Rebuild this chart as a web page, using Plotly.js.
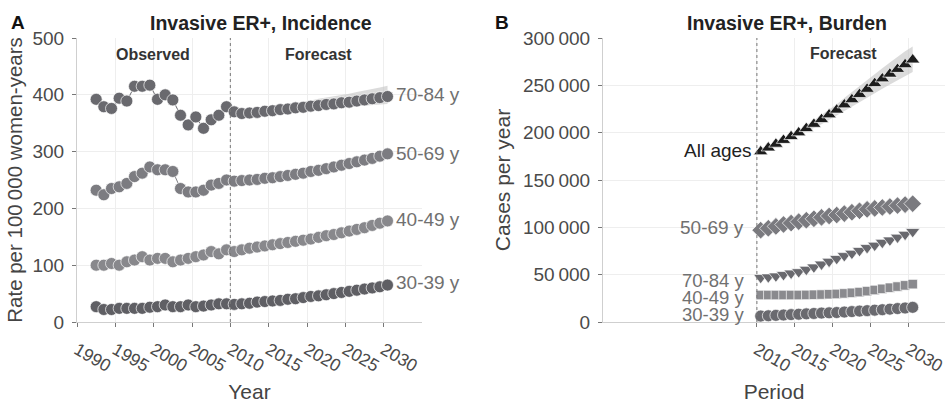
<!DOCTYPE html>
<html>
<head>
<meta charset="utf-8">
<script src="https://cdn.plot.ly/plotly-3.0.1.min.js"></script>
<style>html,body{margin:0;padding:0;background:#fff;}#chart{width:945px;height:403px;}</style>
</head>
<body>
<div id="chart"></div>
<script>
// ---------- Data ----------
var obsYears = [1992,1993,1994,1995,1996,1997,1998,1999,2000,2001,2002,2003,2004,2005,2006,2007,2008,2009];
var fcYears = [2010,2011,2012,2013,2014,2015,2016,2017,2018,2019,2020,2021,2022,2023,2024,2025,2026,2027,2028,2029,2030];

// Panel A: incidence per 100 000 women-years
var incObs7084 = [392,379,376,394,389,415,415,417,392,400,391,364,347,361,341,356,364,379];
var incFc7084  = [370,367,368,369,371,372,374,375,377,378,380,381,383,384,386,387,389,391,393,395,397];
var incFc7084Lo = [370,366,366,367,368,369,370,371,372,373,374,375,376,377,378,379,380,381,382,383,384];
var incFc7084Hi = [370,369,371,373,376,378,381,383,386,388,390,393,395,398,400,402,405,407,410,413,416];
var incObs5069 = [232,224,235,238,244,256,262,273,268,268,265,235,229,229,232,241,244,250];
var incFc5069  = [248,249,250,251,253,254,256,258,260,262,265,267,270,273,276,279,282,285,288,292,296];
var incObs4049 = [100,100,103,100,106,109,115,109,112,112,106,109,112,115,118,124,120,127];
var incFc4049  = [124,127,130,132,134,136,138,140,142,144,146,149,152,154,157,160,163,166,170,174,178];
var incObs3039 = [27,22,22,24,24,24,24,26,27,30,27,27,30,27,28,30,32,32];
var incFc3039  = [31,32,33,35,36,37,38,40,41,43,45,46,48,50,52,54,56,58,60,62,65];

// Panel B: cases per year (forecast)
var burAll   = [180000,184000,188000,192000,196000,200000,204500,209000,214000,219000,224000,229500,235000,240500,246000,252000,257000,262000,267000,272000,277000];
var burAllLo = [180000,183500,187000,190500,194000,197500,201000,205000,209000,213500,218000,222500,227000,232000,237000,242000,246500,251000,255500,260000,264000];
var burAllHi = [180000,184500,189000,193500,198000,202500,208000,213000,219000,224500,230000,236500,243000,249000,255000,262000,268000,274000,280000,286000,291000];
var bur5069 = [97000,99000,101000,103000,104500,106000,107500,109000,110500,112000,113000,114500,116000,117500,119000,120000,121000,122000,123000,124000,125000];
var bur7084 = [47000,47500,48500,50000,51500,53000,55500,58000,61000,64000,67000,70000,72500,75500,78500,81000,84000,86500,89500,92500,95500];
var bur4049 = [28500,28500,28500,28500,28500,28500,28600,28800,29000,29300,29600,30200,30800,31600,32600,33800,35000,36200,37400,38700,40000];
var bur3039 = [6300,6600,7000,7400,7800,8200,8600,9000,9400,9700,10000,10500,11000,11500,12000,12500,13000,13600,14200,14800,15500];

var incTicks = [0,100,200,300,400,500];
var burTicks = [0,50000,100000,150000,200000,250000,300000];
var burTickText = ['0','50\u2009000','100\u2009000','150\u2009000','200\u2009000','250\u2009000','300\u2009000'];
var yearTicksA = [1990,1995,2000,2005,2010,2015,2020,2025,2030];
var yearTicksB = [2010,2015,2020,2025,2030];

// ---------- Helpers ----------
var MID = 0.5; // points plotted at mid-year
function mid(arr){ return arr.map(function(v){ return v + MID; }); }
var W = 945, T = 38, B = 322;
function px(x){ return x / W; }
function py(y){ return (B - y) / (B - T); }

var FONT = 'Liberation Sans, Arial, Helvetica, sans-serif';
var cA7084 = '#69696e', cA5069 = '#7c7c81', cA4049 = '#88888c', cA3039 = '#5f5f64';
var cBAll = '#1c1c1c', cB5069 = '#7a7a7f', cB7084 = '#69696e', cB4049 = '#8a8a8e', cB3039 = '#6a6a6f';
var outline = {color:'rgba(255,255,255,0.85)', width:0.8};

function series(x, y, color, symbol, size, xa, ya){
  return {x:x, y:y, type:'scatter', mode:'lines+markers', xaxis:xa, yaxis:ya,
    line:{color:color, width:1}, marker:{color:color, symbol:symbol, size:size, line:outline},
    hoverinfo:'skip', showlegend:false};
}
function band(x, lo, hi, xa, ya){
  return [
    {x:x, y:lo, type:'scatter', mode:'lines', line:{width:0, color:'rgba(0,0,0,0)'}, xaxis:xa, yaxis:ya, showlegend:false, hoverinfo:'skip'},
    {x:x, y:hi, type:'scatter', mode:'lines', fill:'tonexty', fillcolor:'rgba(195,195,195,0.6)', line:{width:0, color:'rgba(0,0,0,0)'}, xaxis:xa, yaxis:ya, showlegend:false, hoverinfo:'skip'}
  ];
}

var allYearsA = obsYears.concat(fcYears);
var data = [].concat(
  band(mid(fcYears), incFc7084Lo, incFc7084Hi, 'x', 'y'),
  band(mid(fcYears), burAllLo, burAllHi, 'x2', 'y2'),
  [
    series(mid(allYearsA), incObs3039.concat(incFc3039), cA3039, 'circle', 12, 'x', 'y'),
    series(mid(allYearsA), incObs4049.concat(incFc4049), cA4049, 'circle', 12, 'x', 'y'),
    series(mid(allYearsA), incObs5069.concat(incFc5069), cA5069, 'circle', 12, 'x', 'y'),
    series(mid(allYearsA), incObs7084.concat(incFc7084), cA7084, 'circle', 12, 'x', 'y'),
    series(mid(fcYears), bur3039, cB3039, 'circle', 12, 'x2', 'y2'),
    series(mid(fcYears), bur4049, cB4049, 'square', 9.5, 'x2', 'y2'),
    series(mid(fcYears), bur7084, cB7084, 'triangle-down', 12.5, 'x2', 'y2'),
    series(mid(fcYears), bur5069, cB5069, 'diamond', 13.5, 'x2', 'y2'),
    series(mid(fcYears), burAll, cBAll, 'triangle-up', 12.5, 'x2', 'y2')
  ]
);

var axisCommon = {
  showline:true, linecolor:'#cfcfcf', linewidth:1,
  showgrid:true, gridcolor:'#eeeeee', gridwidth:1,
  zeroline:false, ticks:'outside', ticklen:4, tickcolor:'#777', tickwidth:1,
  tickfont:{family:FONT, size:19, color:'#4a4a4a'}, fixedrange:true,
  ticklabeloverflow:'allow'
};
function ax(extra){ var o = {}; for (var k in axisCommon) o[k] = axisCommon[k]; for (var k2 in extra) o[k2] = extra[k2]; return o; }
var xTickFont = {family:FONT, size:17.5, color:'#4a4a4a'};

function ann(text, x, y, size, color, xanchor, xref, yref){
  return {text:text, xref:xref || 'paper', yref:yref || 'paper', x:x, y:y, xanchor:xanchor || 'center', yanchor:'middle',
    showarrow:false, font:{family:FONT, size:size, color:color}};
}

var layout = {
  width:945, height:403,
  margin:{l:0, r:0, t:T, b:403-B, pad:0},
  paper_bgcolor:'#ffffff', plot_bgcolor:'#ffffff',
  showlegend:false,
  font:{family:FONT, color:'#333'},
  xaxis: ax({domain:[px(77), px(422)], range:[1990, 2035], tickvals:yearTicksA, tickangle:30, anchor:'y', ticklabelstandoff:6,
    tickfont:xTickFont,
    title:{text:'Year', font:{family:FONT, size:21, color:'#444'}, standoff:10}}),
  yaxis: ax({domain:[0,1], range:[0,500], tickvals:incTicks, anchor:'x', ticklabelstandoff:4,
    title:{text:'Rate per 100\u2009000 women-years', font:{family:FONT, size:20.5, color:'#444'}, standoff:4}}),
  xaxis2: ax({domain:[px(603), 1], range:[1989.75, 2034.75], tickvals:yearTicksB, tickangle:30, anchor:'y2', ticklabelstandoff:6,
    tickfont:xTickFont,
    title:{text:'Period', font:{family:FONT, size:21, color:'#444'}, standoff:10}}),
  yaxis2: ax({domain:[0,1], range:[0,300000], tickvals:burTicks, ticktext:burTickText, anchor:'x2', ticklabelstandoff:4,
    title:{text:'Cases per year', font:{family:FONT, size:21, color:'#444'}, standoff:6}}),
  shapes:[
    {type:'line', xref:'x', yref:'y domain', x0:2010, x1:2010, y0:0, y1:1, line:{color:'#777', width:1, dash:'dot'}},
    {type:'line', xref:'x2', yref:'y2 domain', x0:2010, x1:2010, y0:0, y1:1, line:{color:'#777', width:1, dash:'dot'}}
  ],
  annotations:[
    ann('<b>A</b>', px(18), py(22), 19, '#111'),
    ann('<b>B</b>', px(502), py(22), 19, '#111'),
    ann('<b>Invasive ER+, Incidence</b>', px(261), py(23), 19.5, '#222'),
    ann('<b>Invasive ER+, Burden</b>', px(787), py(23), 19.5, '#222'),
    ann('<b>Observed</b>', px(153), py(54), 16, '#333'),
    ann('<b>Forecast</b>', px(318), py(54), 16, '#333'),
    ann('<b>Forecast</b>', px(843), py(53), 16, '#333'),
    ann('70-84 y', 2031.3, 401, 19, '#707070', 'left', 'x', 'y'),
    ann('50-69 y', 2031.3, 297, 19, '#707070', 'left', 'x', 'y'),
    ann('40-49 y', 2031.3, 180, 19, '#707070', 'left', 'x', 'y'),
    ann('30-39 y', 2031.3, 70, 19, '#707070', 'left', 'x', 'y'),
    ann('All ages', 2009.6, 180800, 19, '#222', 'right', 'x2', 'y2'),
    ann('50-69 y', 2008.6, 99400, 19, '#707070', 'right', 'x2', 'y2'),
    ann('70-84 y', 2008.6, 43800, 18.5, '#707070', 'right', 'x2', 'y2'),
    ann('40-49 y', 2008.6, 26400, 18.5, '#707070', 'right', 'x2', 'y2'),
    ann('30-39 y', 2008.6, 8000, 18.5, '#707070', 'right', 'x2', 'y2')
  ]
};

Plotly.newPlot('chart', data, layout, {displayModeBar:false, staticPlot:true});
</script>
</body>
</html>
